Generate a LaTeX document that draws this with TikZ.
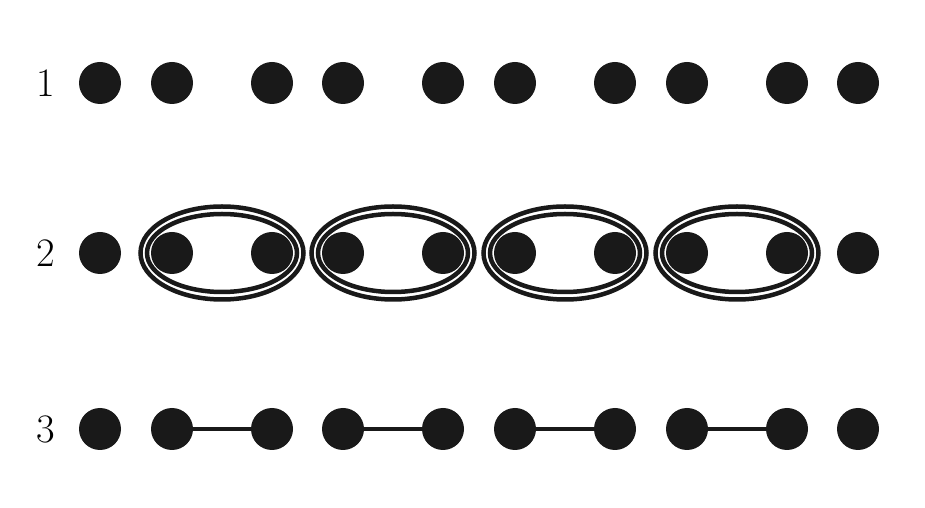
\documentclass[tikz,border=0pt]{standalone}
\usepackage{tikz}
\usetikzlibrary{positioning,calc}

\begin{document}
\begin{tikzpicture}[
    dot/.style={circle, fill=black!90, inner sep=0pt, minimum size=0.84cm},
    rowlabel/.style={font=\fontsize{23}{23}\selectfont, inner sep=0pt},
    ring/.style={line width=0.09cm, black!90},
    link/.style={line width=0.08cm, black!90}
]
\useasboundingbox (0,0) rectangle (18.5,10.16);

% Row labels
\node[rowlabel] (l1) at (0.92,8.5) {1};
\node[rowlabel] (l2) at (0.92,5.1) {2};
\node[rowlabel] (l3) at (0.92,1.58) {3};

% Dots of the three rows
\foreach \x [count=\i] in {2.0,3.44,5.44,6.86,8.86,10.3,12.3,13.74,15.74,17.16} {
    \node[dot] (a\i) at (\x,8.5) {};
    \node[dot] (b\i) at (\x,5.1) {};
    \node[dot] (c\i) at (\x,1.58) {};
}

% Double rings round the pairs in row 2
\foreach \i/\j in {2/3,4/5,6/7,8/9} {
    \coordinate (m\i) at ($(b\i)!0.5!(b\j)$);
    \draw[ring] (m\i) ellipse (1.63cm and 0.93cm);
    \draw[ring] (m\i) ellipse (1.5cm and 0.78cm);
}

% Links between the pairs in row 3
\foreach \i/\j in {2/3,4/5,6/7,8/9} {
    \draw[link] (c\i) -- (c\j);
}

\end{tikzpicture}
\end{document}
